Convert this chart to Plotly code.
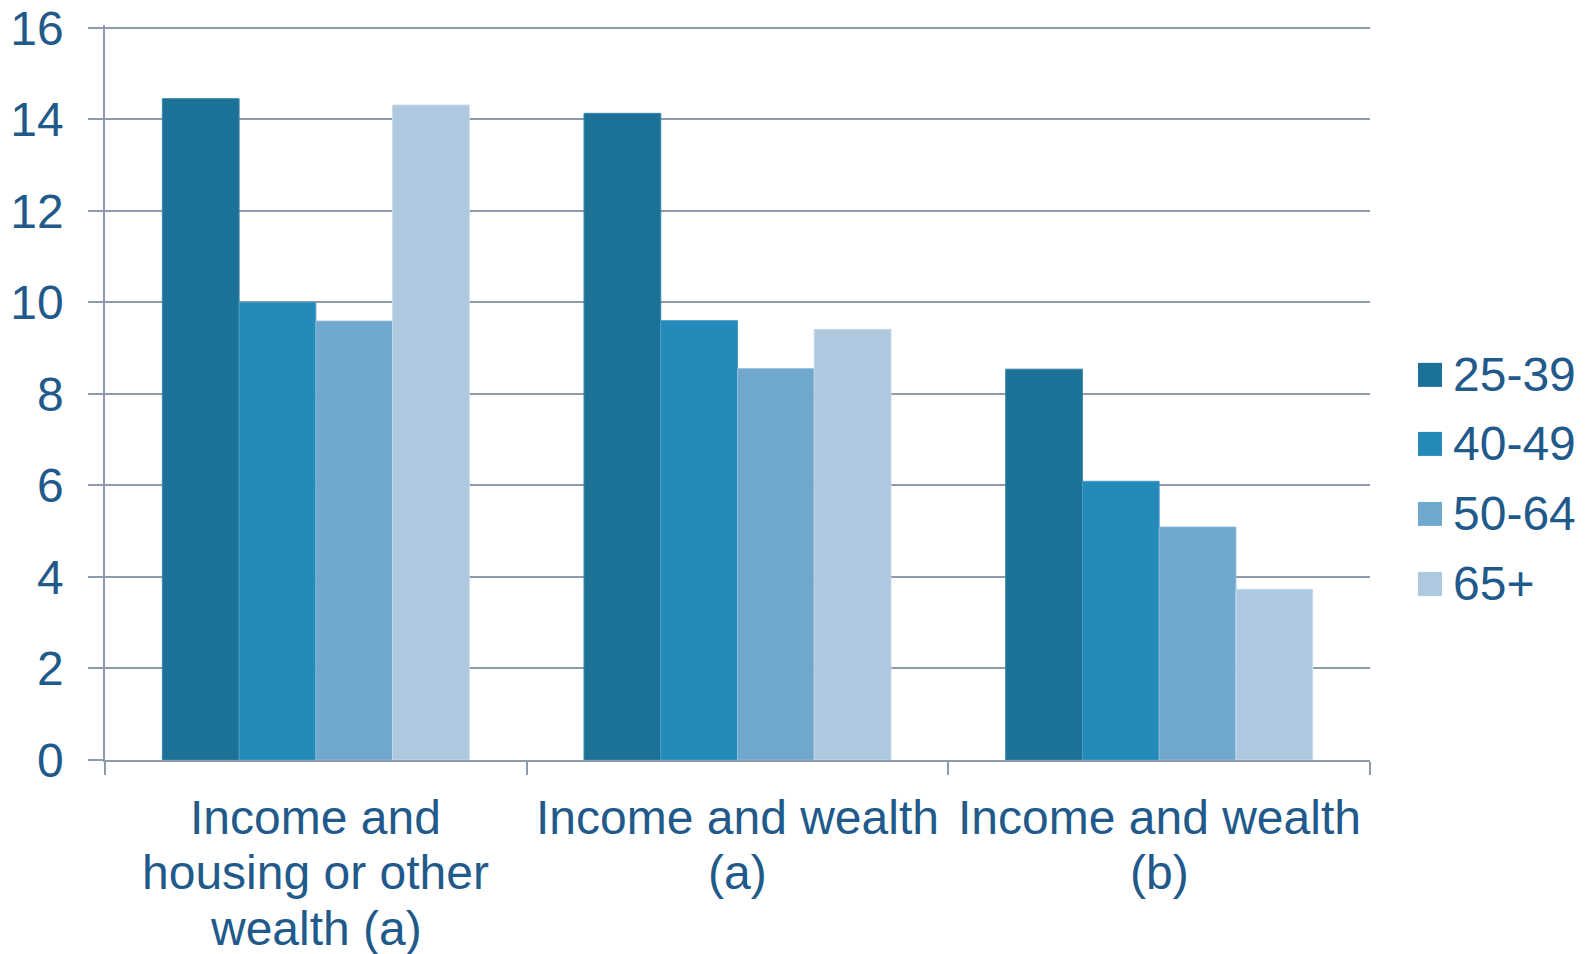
import plotly.graph_objects as go

categories = ["Income and<br>housing or other<br>wealth (a)",
              "Income and wealth<br>(a)",
              "Income and wealth<br>(b)"]
series_names = ["25-39", "40-49", "50-64", "65+"]
values_25_39 = [14.45, 14.13, 8.54]
values_40_49 = [10.0, 9.6, 6.09]
values_50_64 = [9.59, 8.55, 5.09]
values_65plus = [14.31, 9.41, 3.73]
y_ticks = [0, 2, 4, 6, 8, 10, 12, 14, 16]

colors = ["#1B7196", "#248AB9", "#6FA8CC", "#AEC9DF"]
edge_colors = ["#3A85A8", "#4A9CC6", "#8BBADA", "#C6DAEA"]
text_color = "#1F5A8B"
grid_color = "#8E9AAE"
font_family = "Liberation Sans, Arial, sans-serif"
FS = 48

# page has an 8px body margin: figure origin sits at (8, 8) on the page
OFF = 8
PAGE_W, PAGE_H = 1589, 954
W, H = PAGE_W - OFF, PAGE_H - OFF
Y_MAX = 16.06
y16_page, y0_page = 28, 760
px_per_unit = (y0_page - y16_page) / 16.0
plot_left, plot_right = 105, 1370
plot_bottom = y0_page
plot_top = y0_page - Y_MAX * px_per_unit
L = plot_left - OFF
R = W - (plot_right - OFF)
T = plot_top - OFF
B = H - (plot_bottom - OFF)

fig = go.Figure()
all_values = [values_25_39, values_40_49, values_50_64, values_65plus]
for name, vals, c, ec in zip(series_names, all_values, colors, edge_colors):
    fig.add_trace(go.Bar(x=categories, y=vals, name=name,
                         marker=dict(color=c, line=dict(color=ec, width=1)),
                         showlegend=False))

pw = plot_right - plot_left
ph = plot_bottom - plot_top
shapes = []
annotations = []

def px_x(x):
    return (x - plot_left) / pw

def px_y(y):
    return (plot_bottom - y) / ph

# manual legend (large square markers), page px positions
legend_y_px = [375, 444, 514, 584]
sq = 24
sq_x0 = 1418
txt_x = 1451
for name, c, cy in zip(series_names, colors, legend_y_px):
    shapes.append(dict(type="rect", xref="paper", yref="paper",
                       x0=px_x(sq_x0), x1=px_x(sq_x0 + sq),
                       y0=px_y(cy + sq / 2), y1=px_y(cy - sq / 2),
                       fillcolor=c, line=dict(width=0)))
    annotations.append(dict(xref="paper", yref="paper",
                            x=px_x(txt_x), y=px_y(cy),
                            text=name, showarrow=False, xanchor="left", yanchor="middle",
                            font=dict(size=FS, color=text_color, family=font_family)))

# category labels, one annotation per line for tighter line spacing
first_line_offset = 57
line_step = 55.5
for cat in categories:
    for i, line in enumerate(cat.split("<br>")):
        annotations.append(dict(xref="x", yref="paper", x=cat, y=0,
                                yshift=-(first_line_offset + i * line_step),
                                text=line, showarrow=False,
                                xanchor="center", yanchor="middle",
                                font=dict(size=FS, color=text_color, family=font_family)))

fig.update_layout(
    width=W, height=H,
    margin=dict(l=L, r=R, t=T, b=B, pad=0, autoexpand=False),
    paper_bgcolor="white", plot_bgcolor="white",
    barmode="group", bargap=0.272, bargroupgap=0,
    font=dict(family=font_family, size=FS, color=text_color),
    shapes=shapes, annotations=annotations,
    xaxis=dict(showline=True, linecolor=grid_color, linewidth=2,
               ticks="outside", tickson="boundaries", ticklen=13,
               tickcolor=grid_color, tickwidth=1.5,
               showgrid=False, showticklabels=False, automargin=False),
    yaxis=dict(range=[0, Y_MAX], tickvals=y_ticks, showline=True,
               linecolor=grid_color, linewidth=1.5,
               ticks="outside", ticklen=15, tickcolor=grid_color, tickwidth=1.5,
               showgrid=True, gridcolor=grid_color, gridwidth=1.5,
               zeroline=False, ticklabelstandoff=15, automargin=False,
               ticklabeloverflow="allow",
               tickfont=dict(size=FS, color=text_color, family=font_family)),
)

fig.write_html("out.html")
